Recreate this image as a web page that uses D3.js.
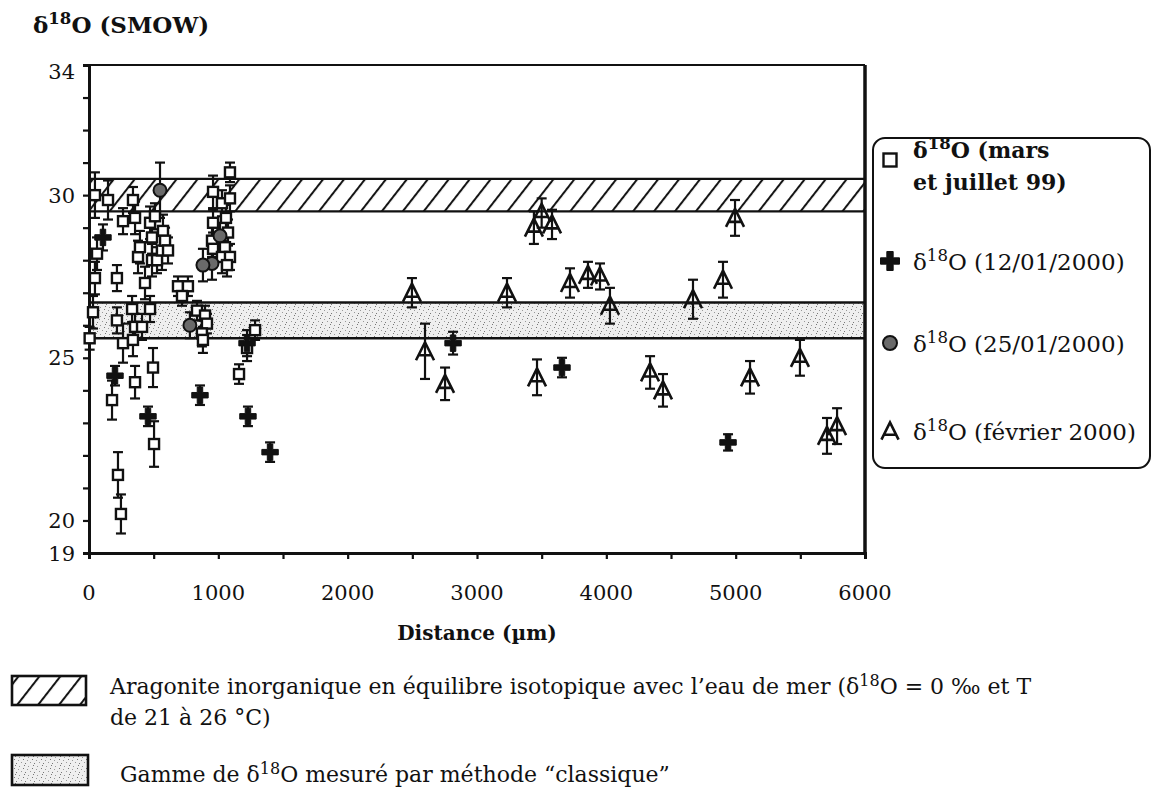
<!DOCTYPE html>
<html>
<head>
<meta charset="utf-8">
<script src="https://cdn.jsdelivr.net/npm/d3@7"></script>
<style>
  body { margin: 0; background: #fff; }
  text { font-family: "DejaVu Serif", "Liberation Serif", serif; fill: #111; }
</style>
</head>
<body>
<svg id="chart" width="1152" height="788"></svg>
<script>
// [distance µm, d18O, error]
var squares = [
  [5, 25.6, 0.35], [31, 26.4, 0.5], [46, 27.45, 0.5], [62, 28.2, 0.5], [46, 30.0, 0.7],
  [147, 29.85, 0.6], [216, 27.45, 0.4], [216, 26.15, 0.4], [178, 23.7, 0.6], [224, 21.4, 0.7],
  [247, 20.2, 0.6], [263, 29.2, 0.4], [263, 25.45, 0.6], [340, 29.85, 0.4], [356, 29.3, 0.5],
  [333, 26.5, 0.4], [356, 25.95, 0.4], [340, 25.55, 0.5], [356, 24.25, 0.5], [379, 28.1, 0.5],
  [394, 28.4, 0.5], [410, 25.95, 0.4], [433, 27.3, 0.5], [472, 29.15, 0.5], [487, 28.7, 0.5],
  [487, 28.0, 0.5], [472, 26.5, 0.4], [495, 24.7, 0.6], [503, 22.35, 0.7], [510, 29.35, 0.4],
  [526, 28.0, 0.4], [572, 28.9, 0.5], [564, 28.3, 0.6], [588, 28.6, 0.4], [611, 28.3, 0.4],
  [688, 27.2, 0.3], [765, 27.2, 0.3], [719, 26.9, 0.3], [835, 26.45, 0.3], [897, 26.3, 0.3],
  [912, 26.05, 0.3], [873, 25.75, 0.4], [881, 25.55, 0.4], [959, 30.1, 0.5], [1090, 30.7, 0.3],
  [1028, 29.75, 0.4], [1090, 29.9, 0.4], [1059, 29.3, 0.4], [959, 29.15, 0.4], [1075, 28.85, 0.4],
  [951, 28.6, 0.5], [959, 28.35, 0.5], [1051, 28.4, 0.4], [1028, 28.1, 0.5], [1090, 28.1, 0.4],
  [1067, 27.85, 0.35], [1160, 24.5, 0.3], [1284, 25.85, 0.3], [1222, 25.3, 0.4]
];
var circles = [
  [549, 30.15, 0.85], [1013, 28.75, 0.4], [951, 27.9, 0.5], [881, 27.85, 0.5], [780, 26.0, 0.4]
];
var crosses = [
  [108, 28.7, 0.4], [201, 24.45, 0.3], [456, 23.2, 0.3], [858, 23.85, 0.3], [1222, 25.45, 0.4],
  [1229, 23.2, 0.3], [1400, 22.1, 0.3], [2815, 25.45, 0.35], [3657, 24.7, 0.3], [4941, 22.4, 0.25]
];
var triangles = [
  [2497, 27.0, 0.45], [2598, 25.2, 0.85], [2753, 24.2, 0.5], [3232, 27.0, 0.45], [3440, 29.0, 0.5],
  [3500, 29.45, 0.45], [3580, 29.1, 0.45], [3464, 24.4, 0.55], [3719, 27.3, 0.45], [3858, 27.55, 0.4],
  [3951, 27.5, 0.4], [4028, 26.6, 0.55], [4338, 24.55, 0.5], [4438, 24.0, 0.5], [4670, 26.8, 0.6],
  [4902, 27.4, 0.55], [4995, 29.3, 0.55], [5111, 24.4, 0.5], [5497, 25.0, 0.55], [5706, 22.6, 0.55],
  [5784, 22.9, 0.55]
];
var hatchBand = [29.5, 30.5];
var classicBand = [25.6, 26.7];
var yLabels = [19, 20, 25, 30, 34];
var xLabels = [0, 1000, 2000, 3000, 4000, 5000, 6000];

var svg = d3.select('#chart');
var x = d3.scaleLinear().domain([0, 6000]).range([89, 865]);
var y = d3.scaleLinear().domain([19, 34]).range([553, 65]);

var defs = svg.append('defs');
var hatch = defs.append('pattern').attr('id', 'hatch')
  .attr('patternUnits', 'userSpaceOnUse').attr('width', 16.5).attr('height', 16.5)
  .attr('patternTransform', 'rotate(38)');
hatch.append('rect').attr('width', 16.5).attr('height', 16.5).attr('fill', '#fff');
hatch.append('line').attr('x1', 2).attr('x2', 2).attr('y1', 0).attr('y2', 16.5)
  .attr('stroke', '#111').attr('stroke-width', 2);

var stip = defs.append('pattern').attr('id', 'stipple')
  .attr('patternUnits', 'userSpaceOnUse').attr('width', 9).attr('height', 9);
stip.append('rect').attr('width', 9).attr('height', 9).attr('fill', '#efefef');
[[1, 1], [5, 3], [3, 6], [7, 7], [0, 4], [6, 0]].forEach(function(p, i) {
  stip.append('rect').attr('x', p[0]).attr('y', p[1]).attr('width', 1).attr('height', 1)
    .attr('fill', i % 2 ? '#777' : '#999');
});

// bands
function band(vals, fill) {
  svg.append('rect').attr('x', x(0)).attr('width', x(6000) - x(0))
    .attr('y', y(vals[1])).attr('height', y(vals[0]) - y(vals[1]))
    .attr('fill', fill);
  vals.forEach(function(v) {
    svg.append('line').attr('x1', x(0)).attr('x2', x(6000))
      .attr('y1', y(v)).attr('y2', y(v)).attr('stroke', '#111').attr('stroke-width', 2.4);
  });
}
band(hatchBand, 'url(#hatch)');
band(classicBand, 'url(#stipple)');

// frame and axes
svg.append('line').attr('x1', x(0)).attr('x2', x(6000)).attr('y1', y(34)).attr('y2', y(34))
  .attr('stroke', '#111').attr('stroke-width', 2);
svg.append('line').attr('x1', x(6000)).attr('x2', x(6000)).attr('y1', y(34)).attr('y2', y(19))
  .attr('stroke', '#111').attr('stroke-width', 3.5);

var yAxis = svg.append('g').attr('transform', 'translate(' + x(0) + ',0)')
  .call(d3.axisLeft(y).tickValues(d3.range(19, 35)).tickSize(6).tickFormat(''));
var xAxis = svg.append('g').attr('transform', 'translate(0,' + y(19) + ')')
  .call(d3.axisBottom(x).tickValues(d3.range(0, 6001, 500)).tickSize(6).tickFormat(''));
[yAxis, xAxis].forEach(function(a) {
  a.select('.domain').attr('stroke', '#111').attr('stroke-width', 3);
  a.selectAll('.tick line').attr('stroke', '#111').attr('stroke-width', 2.2);
});

svg.append('g').selectAll('text').data(yLabels).join('text')
  .attr('x', 75).attr('y', function(d) { return y(d) + (d === 34 ? 6 : 0); }).attr('dy', '0.36em')
  .attr('text-anchor', 'end').attr('font-size', 21).text(function(d) { return d; });
svg.append('g').selectAll('text').data(xLabels).join('text')
  .attr('x', function(d) { return x(d); }).attr('y', 600)
  .attr('text-anchor', 'middle').attr('font-size', 21).text(function(d) { return d; });

function deltaText(g, px, py, size, rest) {
  var t = g.append('text').attr('x', px).attr('y', py).attr('font-size', size);
  t.append('tspan').text('δ');
  t.append('tspan').attr('dy', -size * 0.38).attr('font-size', size * 0.72).text('18');
  t.append('tspan').attr('dy', size * 0.38).text(rest);
  return t;
}
deltaText(svg, 33, 33, 23, 'O (SMOW)').attr('font-weight', 'bold');
svg.append('text').attr('x', x(3000)).attr('y', 640).attr('text-anchor', 'middle')
  .attr('font-size', 20).attr('font-weight', 'bold').text('Distance (µm)');

// error bars
var all = squares.concat(circles, crosses, triangles);
var eb = svg.append('g').attr('stroke', '#111').attr('stroke-width', 2.2);
all.forEach(function(d) {
  var cx = x(d[0]), y1 = y(d[1] + d[2]), y2 = y(d[1] - d[2]);
  eb.append('line').attr('x1', cx).attr('x2', cx).attr('y1', y1).attr('y2', y2);
  eb.append('line').attr('x1', cx - 5).attr('x2', cx + 5).attr('y1', y1).attr('y2', y1);
  eb.append('line').attr('x1', cx - 5).attr('x2', cx + 5).attr('y1', y2).attr('y2', y2);
});

// symbols
function drawSquare(g, cx, cy, s) {
  g.append('rect').attr('x', cx - s / 2).attr('y', cy - s / 2).attr('width', s).attr('height', s)
    .attr('fill', '#fff').attr('stroke', '#111').attr('stroke-width', 2.4);
}
function drawCircle(g, cx, cy, r) {
  g.append('circle').attr('cx', cx).attr('cy', cy).attr('r', r)
    .attr('fill', '#6a6a6a').attr('stroke', '#111').attr('stroke-width', 2);
}
function drawCross(g, cx, cy, s) {
  g.append('path').attr('d', d3.symbol(d3.symbolCross, s)())
    .attr('transform', 'translate(' + cx + ',' + cy + ')').attr('fill', '#111')
    .attr('stroke', '#111').attr('stroke-width', 1).attr('stroke-linejoin', 'round');
}
function drawTri(g, cx, cy, k) {
  g.append('path').attr('d', 'M-9,9L0,-9L9,9M-6,4L6,4')
    .attr('transform', 'translate(' + cx + ',' + cy + ') scale(' + k + ')')
    .attr('fill', 'none').attr('stroke', '#111').attr('stroke-width', 2.6 / k);
}
var marks = svg.append('g');
squares.forEach(function(d) { drawSquare(marks, x(d[0]), y(d[1]), 10); });
circles.forEach(function(d) { drawCircle(marks, x(d[0]), y(d[1]), 6.5); });
crosses.forEach(function(d) { drawCross(marks, x(d[0]), y(d[1]), 150); });
triangles.forEach(function(d) { drawTri(marks, x(d[0]), y(d[1]), 1); });

// legend
var lg = svg.append('g');
lg.append('rect').attr('x', 873).attr('y', 138).attr('width', 277).attr('height', 330)
  .attr('rx', 12).attr('fill', '#fff').attr('stroke', '#111').attr('stroke-width', 2);
drawSquare(lg, 890, 160, 13);
deltaText(lg, 913, 158, 23, 'O (mars').attr('font-weight', 'bold').attr('font-size', 22);
lg.append('text').attr('x', 913).attr('y', 190).attr('font-size', 22).attr('font-weight', 'bold')
  .text('et juillet 99)');
drawCross(lg, 890, 261, 200);
deltaText(lg, 913, 270, 23, 'O (12/01/2000)');
drawCircle(lg, 890, 343, 7);
deltaText(lg, 913, 352, 23, 'O (25/01/2000)');
drawTri(lg, 890, 431, 0.95);
deltaText(lg, 913, 440, 23, 'O (février 2000)');

// bottom legend
svg.append('rect').attr('x', 12).attr('y', 676).attr('width', 74).attr('height', 29)
  .attr('fill', 'url(#hatch)').attr('stroke', '#111').attr('stroke-width', 2.6);
var t1 = svg.append('text').attr('x', 110).attr('y', 694).attr('font-size', 22);
t1.append('tspan').text('Aragonite inorganique en équilibre isotopique avec l’eau de mer (δ');
t1.append('tspan').attr('dy', -8).attr('font-size', 16).text('18');
t1.append('tspan').attr('dy', 8).text('O = 0 ‰ et T');
svg.append('text').attr('x', 110).attr('y', 725).attr('font-size', 22).text('de 21 à 26 °C)');

svg.append('rect').attr('x', 12).attr('y', 755).attr('width', 76).attr('height', 30)
  .attr('fill', 'url(#stipple)').attr('stroke', '#111').attr('stroke-width', 2.6);
var t2 = svg.append('text').attr('x', 120).attr('y', 782).attr('font-size', 22);
t2.append('tspan').text('Gamme de δ');
t2.append('tspan').attr('dy', -8).attr('font-size', 16).text('18');
t2.append('tspan').attr('dy', 8).text('O mesuré par méthode “classique”');
</script>
</body>
</html>
